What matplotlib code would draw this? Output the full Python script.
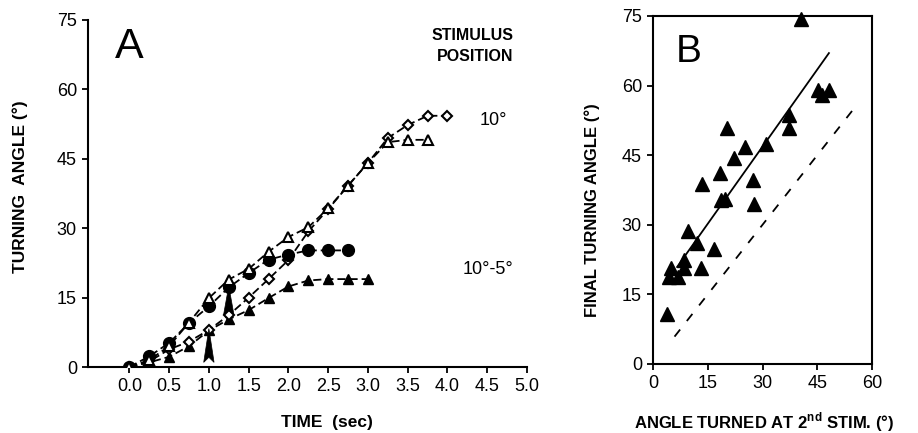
import matplotlib
matplotlib.use('Agg')
import matplotlib.pyplot as plt
import numpy as np

plt.rcParams['font.family'] = ['Liberation Sans', 'DejaVu Sans']
plt.rcParams['mathtext.fontset'] = 'custom'
plt.rcParams['mathtext.rm'] = 'Liberation Sans'
plt.rcParams['mathtext.bf'] = 'Liberation Sans:bold'

# ---- panel A data (time in sec, turning angle in deg) ----
t_step = 0.25
open_diamond = [0, 1.2, 3.8, 5.5, 8.0, 11.2, 15.0, 19.0, 23.1, 29.3, 34.1,
                39.2, 44.1, 49.5, 52.3, 54.3, 54.3]
open_triangle = [0, 1.5, 4.5, 9.6, 14.9, 18.9, 21.2, 24.9, 28.1, 30.2, 34.3,
                 39.2, 44.1, 48.6, 49.1, 49.1]
filled_circle = [0, 2.3, 5.2, 9.5, 13.1, 17.2, 20.3, 23.2, 24.3, 25.2, 25.2, 25.2]
filled_triangle = [0, 1.0, 2.2, 4.5, 7.9, 10.3, 12.3, 14.9, 17.4, 18.7, 19.0,
                   19.0, 19.0]
# stimulus arrows
stim_t = [1.0, 1.25]
stim_base = [1.0, 11.3]
stim_tip = [8.3, 17.5]

# ---- panel B data ----
turned_2nd = [40.6, 20.3, 45.2, 48.2, 46.4, 37.2, 37.2, 31.0, 25.2, 22.3,
              27.4, 18.3, 13.3, 18.6, 19.8, 27.6, 9.6, 12.0, 16.6, 8.5, 8.5,
              13.1, 4.8, 4.4, 6.8, 3.8]
final_angle = [74.4, 50.9, 59.1, 59.1, 58.0, 53.6, 50.9, 47.5, 46.8, 44.3,
               39.7, 41.2, 38.9, 35.3, 35.6, 34.4, 28.7, 26.0, 24.7, 22.4,
               20.6, 20.6, 20.7, 18.8, 18.8, 10.7]
fit_slope, fit_int = 1.108, 13.6
fit_range = [6.6, 48.2]
ident_range = [5.9, 55.0]

W, H = 918, 433
fig = plt.figure(figsize=(W / 100, H / 100), dpi=100)
axA = fig.add_axes([88 / W, 1 - 367 / H, 439 / W, 347 / H])
axB = fig.add_axes([653 / W, 1 - 364 / H, 219 / W, 348 / H])

dash = (4.5, 2.2)
lw = 1.3


def times(vals):
    return np.arange(len(vals)) * t_step


axA.plot(times(filled_triangle), filled_triangle, color='k', lw=lw,
         dashes=dash, marker='^', ms=7.5, mfc='k', mec='k', zorder=3)
axA.plot(times(open_diamond), open_diamond, color='k', lw=lw, dashes=dash,
         marker='D', ms=5.5, mfc='white', mec='k', mew=1.5, zorder=4)
axA.plot(times(filled_circle), filled_circle, color='k', lw=lw, dashes=dash,
         marker='o', ms=8.5, mfc='k', mec='k', zorder=5)
axA.plot(times(open_triangle), open_triangle, color='k', lw=lw, dashes=dash,
         marker='^', ms=7, mfc='white', mec='k', mew=1.5, zorder=6)

# arrows marking the stimulus times
for t, b, tip in zip(stim_t, stim_base, stim_tip):
    w = 0.065
    notch = (tip - b) * 0.15
    axA.fill([t - w, t, t + w, t], [b, b + notch, b, tip], color='k',
             lw=0.5, zorder=7)

axA.set_xlim(-0.52, 5.0)
axA.set_ylim(0, 75)
axA.set_xticks(np.arange(0, 5.01, 0.5))
axA.set_xticklabels(['%.1f' % v for v in np.arange(0, 5.01, 0.5)])
axA.set_yticks(np.arange(0, 76, 15))
for s in ['top', 'right']:
    axA.spines[s].set_visible(False)

axA.text(0.0, 69.1, 'A', fontsize=31, ha='center', va='center')
axA.text(4.83, 69.4, 'STIMULUS\nPOSITION', fontsize=11.5, fontweight='bold',
         ha='right', va='center', multialignment='right', linespacing=1.45)
axA.text(4.41, 53.2, '10°', fontsize=13, ha='left', va='center')
axA.text(4.19, 21.0, '10°-5°', fontsize=13, ha='left', va='center')

# panel B
axB.plot(turned_2nd, final_angle, linestyle='none', marker='^', ms=10,
         color='k', clip_on=False, zorder=4)
fx = np.array(fit_range)
axB.plot(fx, fit_slope * fx + fit_int, color='k', lw=1.3)
axB.plot(ident_range, ident_range, color='k', lw=1.3, dashes=(5, 6))
axB.set_xlim(0, 60)
axB.set_ylim(0, 75)
axB.set_xticks(np.arange(0, 61, 15))
axB.set_yticks(np.arange(0, 76, 15))
axB.text(9.8, 67.2, 'B', fontsize=28, ha='center', va='center')

for ax in (axA, axB):
    for s in ax.spines.values():
        s.set_linewidth(1.5)
    ax.tick_params(direction='out', length=4, width=1.3, labelsize=13,
                   pad=4)

fig.text(327 / W, 1 - 422 / H, 'TIME  (sec)', fontsize=12.5,
         fontweight='bold', ha='center', va='center')
fig.text(20 / W, 1 - 187 / H, 'TURNING  ANGLE (°)', fontsize=12.5,
         fontweight='bold', ha='center', va='center', rotation=90)
fig.text(592 / W, 1 - 210 / H, 'FINAL TURNING ANGLE (°)', fontsize=12,
         fontweight='bold', ha='center', va='center', rotation=90)
fig.text(764 / W, 1 - 422 / H, r'ANGLE TURNED AT 2$^{\mathbf{nd}}$ STIM. (°)',
         fontsize=12, fontweight='bold', ha='center', va='center')

fig.savefig('out.png', dpi=100)
